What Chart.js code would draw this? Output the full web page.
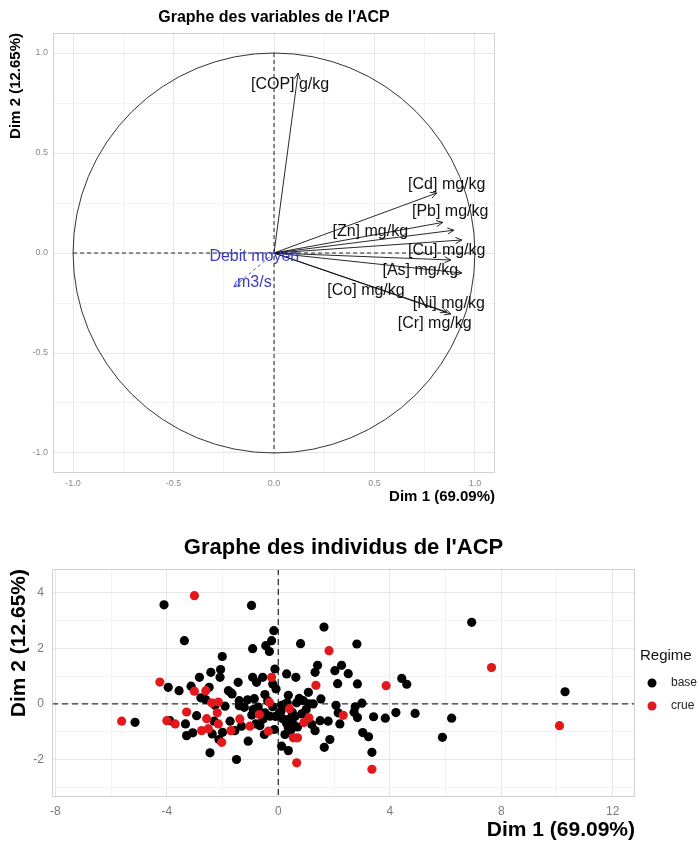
<!DOCTYPE html>
<html>
<head>
<meta charset="utf-8">
<script src="https://cdn.jsdelivr.net/npm/chart.js@4.4.1/dist/chart.umd.min.js"></script>
<style>
  body { margin: 0; background: #fff; }
  #varChart { position: absolute; left: 0; top: 0; }
  #indChart { position: absolute; left: 0; top: 528px; }
</style>
</head>
<body>
<canvas id="varChart" width="520" height="508"></canvas>
<canvas id="indChart" width="699" height="315"></canvas>
<script>
// ---------- variables (correlation circle) ----------
const varNames = ['[COP] g/kg', '[Cd] mg/kg', '[Pb] mg/kg', '[Zn] mg/kg', '[Cu] mg/kg',
                  '[As] mg/kg', '[Co] mg/kg', '[Ni] mg/kg', '[Cr] mg/kg'];
const varDim1 = [0.12, 0.81, 0.84, 0.895, 0.935, 0.88, 0.935, 0.86, 0.88];
const varDim2 = [0.90, 0.30, 0.153, 0.114, 0.065, -0.035, -0.10, -0.295, -0.305];
const supNames = ['Debit moyen', 'm3/s'];
const supDim1 = [-0.20];
const supDim2 = [-0.17];
const varTicks = [-1, -0.75, -0.5, -0.25, 0, 0.25, 0.5, 0.75, 1];

// where the repelled labels sit (data units)
const varLabelAt = [[0.08, 0.84], [0.86, 0.343], [0.877, 0.205], [0.479, 0.106], [0.86, 0.011],
                    [0.728, -0.088], [0.458, -0.188], [0.87, -0.254], [0.80, -0.353]];
const supLabelAt = [[-0.098, -0.018]];

// ---------- individuals ----------
const regimes = ['base', 'crue'];
const baseDim1 = [-4.10, -0.96, -3.37, -0.16, -0.24, -0.32, -0.45, -0.92, 0.80, 1.64,
  -2.01, -2.07, -2.09, -2.42, -0.12, 0.30, 0.63, 1.32, 1.41, 2.03,
  2.27, 2.51, 2.13, -2.83, -3.95, -3.56, -3.13, -2.48, -2.78, -2.61,
  -1.79, -1.70, -1.44, -1.40, -1.40, -0.92, -0.78, -0.56, -0.86, -0.48,
  -0.38, -0.20, -0.08, 0.36, 0.22, 0.66, 0.90, 1.08, 1.11, 1.53,
  2.07, 2.15, 2.21, -2.27, -1.91, -1.22, -0.72, 0.12, 0.04, 0.32,
  0.16, 0.42, 0.54, 0.69, 0.84, 1.20, 1.32, 1.50, 1.79, 1.85,
  1.65, -5.14, -3.89, -3.33, -3.29, -3.07, -2.93, -2.37, -2.13, -2.30,
  -2.45, -1.50, -1.56, -1.32, -1.08, -0.81, -0.50, -0.66, -0.14, 0.12,
  0.24, 0.36, 0.22, 0.36, -0.48, -0.30, -0.90, -1.73, -2.00,
  2.84, 2.82, 2.76, 2.72, 2.84, 3.00, 3.42, 3.84, 4.22, 4.43,
  4.61, 4.91, 3.03, 3.24, 3.36, 5.89, 6.22, 6.94, 10.29,
  0.50, 0.10, -0.10, 0.60, 0.30, -0.55, 1.00, 0.75, -1.10, -0.20,
  0.45, 1.25, -0.95, -1.66];
const baseDim2 = [3.57, 3.55, 2.28, 2.64, 2.28, 1.89, 2.10, 1.99, 2.17, 2.77,
  1.71, 1.24, 0.96, 1.14, 1.26, 1.08, 0.96, 1.14, 1.39, 1.20,
  1.39, 1.09, 0.73, 0.96, 0.60, 0.48, 0.64, 0.60, 0.22, 0.16,
  0.48, 0.40, 0.78, 0.12, -0.06, 0.96, 0.78, 0.96, 0.19, 0.34,
  0.12, 0.72, 0.54, 0.31, -0.02, 0.04, 0.12, 0.42, 0.00, 0.18,
  -0.05, -0.32, -0.72, -0.05, -0.08, -0.12, -0.11, -0.05, -0.32, 0.04,
  -0.53, -0.53, -0.74, -0.83, -0.36, -0.74, -0.96, -0.60, -0.62, -1.28,
  -1.56, -0.66, -0.60, -0.72, -1.14, -1.04, -0.42, -1.08, -1.28, -0.62,
  -1.76, -2.00, -0.96, -0.80, -1.34, -0.72, -1.10, -0.78, -0.92, -1.52,
  -1.10, -1.68, -0.56, -0.86, -0.32, -0.44, -0.20, -0.62, -1.02,
  0.72, 2.16, -0.10, -0.30, -0.49, 0.03, -0.46, -0.51, -0.31, 0.92,
  0.71, -0.34, -1.03, -1.18, -1.74, -1.20, -0.51, 2.94, 0.44,
  -0.30, -0.25, -0.45, -0.45, -0.70, -0.55, -0.20, 0.20, 0.15, -0.10,
  -0.95, 0.00, -0.40, 0.36];
const crueDim1 = [-3.01, -4.25, -5.62, -4.00, -3.70, -3.01, -3.29, -2.60, -2.75, -2.57,
  -2.51, -2.39, -2.15, -2.19, -2.15, -2.03, -1.70, -1.38, -1.02, -0.68,
  -0.24, -0.32, -0.36, 0.40, 0.54, 0.69, 0.66, 0.92, 1.10, 1.35,
  1.82, 2.33, 3.87, 3.36, 7.65, 10.09];
const crueDim2 = [3.90, 0.79, -0.62, -0.60, -0.72, 0.46, -0.29, 0.48, -0.96, -0.53,
  -0.89, 0.04, 0.07, -0.32, -0.72, -1.38, -0.96, -0.54, -0.80, -0.38,
  0.96, 0.06, -0.98, -0.17, -1.22, -1.22, -2.12, -0.67, -0.50, 0.67,
  1.92, -0.41, 0.66, -2.35, 1.31, -0.78];
const indTicksX = [-8, -6, -4, -2, 0, 2, 4, 6, 8, 10, 12];
const indTicksY = [-3, -2, -1, 0, 1, 2, 3, 4];

Chart.defaults.font.family = "'Liberation Sans', Arial, sans-serif";

const isMult = (v, step) => Math.abs(v / step - Math.round(v / step)) < 1e-9;

// panel border + centered title
const frame = {
  id: 'frame',
  afterDraw(chart, args, opts) {
    const { ctx, chartArea: a } = chart;
    ctx.save();
    ctx.strokeStyle = '#d2d2d2';
    ctx.lineWidth = 1;
    ctx.strokeRect(a.left + 0.5, a.top + 0.5, a.right - a.left - 1, a.bottom - a.top - 1);
    ctx.fillStyle = '#000';
    ctx.font = opts.font;
    ctx.textAlign = 'center';
    ctx.textBaseline = 'middle';
    ctx.fillText(opts.text, (a.left + a.right) / 2, opts.y);
    ctx.restore();
  }
};

// dashed lines through the origin
const zeroLines = {
  id: 'zeroLines',
  beforeDatasetsDraw(chart, args, opts) {
    const { ctx, chartArea: a, scales: { x, y } } = chart;
    const cx = x.getPixelForValue(0), cy = y.getPixelForValue(0);
    const x0 = opts.span ? x.getPixelForValue(-opts.span) : a.left;
    const x1 = opts.span ? x.getPixelForValue(opts.span) : a.right;
    const y0 = opts.span ? y.getPixelForValue(opts.span) : a.top;
    const y1 = opts.span ? y.getPixelForValue(-opts.span) : a.bottom;
    ctx.save();
    ctx.strokeStyle = opts.color;
    ctx.lineWidth = opts.width;
    ctx.setLineDash(opts.dash);
    ctx.beginPath();
    ctx.moveTo(x0, cy); ctx.lineTo(x1, cy);
    ctx.moveTo(cx, y0); ctx.lineTo(cx, y1);
    ctx.stroke();
    ctx.restore();
  }
};

// unit circle, arrow heads and variable labels
const arrows = {
  id: 'arrows',
  beforeDatasetsDraw(chart) {
    const { ctx, scales: { x, y } } = chart;
    const cx = x.getPixelForValue(0), cy = y.getPixelForValue(0);
    ctx.save();
    ctx.strokeStyle = '#333';
    ctx.lineWidth = 1;
    ctx.beginPath();
    ctx.ellipse(cx, cy, x.getPixelForValue(1) - cx, cy - y.getPixelForValue(1), 0, 0, Math.PI * 2);
    ctx.stroke();
    ctx.restore();
  },
  afterDatasetsDraw(chart) {
    const { ctx, scales: { x, y } } = chart;
    ctx.save();
    chart.data.datasets.forEach((ds, i) => {
      const pts = chart.getDatasetMeta(i).data;
      const p0 = pts[0], p1 = pts[1];
      const ang = Math.atan2(p1.y - p0.y, p1.x - p0.x);
      ctx.strokeStyle = ds.borderColor;
      ctx.lineWidth = 0.9;
      ctx.setLineDash([]);
      ctx.beginPath();
      ctx.moveTo(p1.x - 7 * Math.cos(ang - 0.45), p1.y - 7 * Math.sin(ang - 0.45));
      ctx.lineTo(p1.x, p1.y);
      ctx.lineTo(p1.x - 7 * Math.cos(ang + 0.45), p1.y - 7 * Math.sin(ang + 0.45));
      ctx.stroke();

      ctx.fillStyle = ds.borderColor;
      ctx.font = "16px 'Liberation Sans', Arial, sans-serif";
      ctx.textAlign = 'center';
      ctx.textBaseline = 'middle';
      const lx = x.getPixelForValue(ds.labelAt[0]);
      const ly = y.getPixelForValue(ds.labelAt[1]);
      ds.labelLines.forEach((t, k) => ctx.fillText(t, lx, ly + k * 25.6));
    });
    ctx.restore();
  }
};

// legend at the right of the individuals panel
const sideLegend = {
  id: 'sideLegend',
  afterDraw(chart) {
    const { ctx, chartArea: a } = chart;
    ctx.save();
    ctx.textBaseline = 'middle';
    ctx.textAlign = 'left';
    ctx.fillStyle = '#111';
    ctx.font = "15px 'Liberation Sans', Arial, sans-serif";
    ctx.fillText('Regime', a.right + 5, 128);
    ctx.font = "12px 'Liberation Sans', Arial, sans-serif";
    regimes.forEach((r, i) => {
      const ds = chart.data.datasets.find(d => d.label === r);
      const yy = 155 + i * 23;
      ctx.fillStyle = ds.backgroundColor;
      ctx.beginPath();
      ctx.arc(a.right + 17, yy, 4.5, 0, Math.PI * 2);
      ctx.fill();
      ctx.fillStyle = '#222';
      ctx.fillText(r, a.right + 36, yy);
    });
    ctx.restore();
  }
};

const varDatasets = varNames.map((n, i) => ({
  label: n,
  data: [{ x: 0, y: 0 }, { x: varDim1[i], y: varDim2[i] }],
  showLine: true,
  borderColor: '#111',
  borderWidth: 0.9,
  pointRadius: 0,
  labelAt: varLabelAt[i],
  labelLines: [n]
}));
supDim1.forEach((v, i) => varDatasets.push({
  label: supNames.join(' '),
  data: [{ x: 0, y: 0 }, { x: v, y: supDim2[i] }],
  showLine: true,
  borderColor: '#3b3bbb',
  borderWidth: 0.9,
  borderDash: [3, 3],
  pointRadius: 0,
  labelAt: supLabelAt[i],
  labelLines: supNames
}));

new Chart(document.getElementById('varChart'), {
  type: 'scatter',
  data: { datasets: varDatasets },
  options: {
    responsive: false,
    animation: false,
    events: [],
    layout: { padding: { top: 33, right: 25, left: 0, bottom: 0 } },
    plugins: {
      legend: { display: false },
      tooltip: { enabled: false },
      frame: { text: "Graphe des variables de l'ACP", font: "bold 16px 'Liberation Sans', Arial, sans-serif", y: 18 },
      zeroLines: { span: 1, color: '#222', width: 1, dash: [4, 3] }
    },
    scales: {
      x: {
        type: 'linear', min: -1.1, max: 1.1,
        afterBuildTicks: s => { s.ticks = varTicks.map(v => ({ value: v })); },
        afterFit: s => { s.height = 35; },
        grid: { color: c => isMult(c.tick.value, 0.5) ? '#e6e6e6' : '#f3f3f3', drawTicks: false },
        border: { display: false },
        ticks: { autoSkip: false, maxRotation: 0, padding: 5, font: { size: 9 }, color: '#8a8a8a',
                 callback: v => isMult(v, 0.5) ? v.toFixed(1) : '' },
        title: { display: true, text: 'Dim 1 (69.09%)', align: 'end', color: '#000',
                 font: { size: 15, weight: 'bold' }, padding: { top: 0, bottom: 2 } }
      },
      y: {
        type: 'linear', min: -1.1, max: 1.1,
        afterBuildTicks: s => { s.ticks = varTicks.map(v => ({ value: v })); },
        afterFit: s => { s.width = 53; },
        grid: { color: c => isMult(c.tick.value, 0.5) ? '#e6e6e6' : '#f3f3f3', drawTicks: false },
        border: { display: false },
        ticks: { autoSkip: false, padding: 5, font: { size: 9 }, color: '#8a8a8a',
                 callback: v => isMult(v, 0.5) ? v.toFixed(1) : '' },
        title: { display: true, text: 'Dim 2 (12.65%)', align: 'end', color: '#000',
                 font: { size: 15, weight: 'bold' }, padding: { top: 7, bottom: 0 } }
      }
    }
  },
  plugins: [frame, zeroLines, arrows]
});

new Chart(document.getElementById('indChart'), {
  type: 'scatter',
  data: {
    datasets: [
      { label: regimes[0], data: baseDim1.map((v, i) => ({ x: v, y: baseDim2[i] })),
        backgroundColor: '#000000', borderColor: '#000000', pointRadius: 4.6, borderWidth: 0, order: 1 },
      { label: regimes[1], data: crueDim1.map((v, i) => ({ x: v, y: crueDim2[i] })),
        backgroundColor: '#e3181c', borderColor: '#e3181c', pointRadius: 4.6, borderWidth: 0, order: 0 }
    ]
  },
  options: {
    responsive: false,
    animation: false,
    events: [],
    layout: { padding: { top: 41, right: 64, left: 0, bottom: 0 } },
    plugins: {
      legend: { display: false },
      tooltip: { enabled: false },
      frame: { text: "Graphe des individus de l'ACP", font: "bold 22px 'Liberation Sans', Arial, sans-serif", y: 20 },
      zeroLines: { span: 0, color: '#333', width: 1.3, dash: [6, 4] }
    },
    scales: {
      x: {
        type: 'linear', min: -8.12, max: 12.8,
        afterBuildTicks: s => { s.ticks = indTicksX.map(v => ({ value: v })); },
        afterFit: s => { s.height = 46; },
        grid: { color: c => isMult(c.tick.value, 4) ? '#e6e6e6' : '#f3f3f3', drawTicks: false },
        border: { display: false },
        ticks: { autoSkip: false, maxRotation: 0, padding: 7, font: { size: 12 }, color: '#7a7a7a',
                 callback: v => isMult(v, 4) ? String(v) : '' },
        title: { display: true, text: 'Dim 1 (69.09%)', align: 'end', color: '#000',
                 font: { size: 21, weight: 'bold' }, padding: { top: 0, bottom: 0 } }
      },
      y: {
        type: 'linear', min: -3.35, max: 4.86,
        afterBuildTicks: s => { s.ticks = indTicksY.map(v => ({ value: v })); },
        afterFit: s => { s.width = 52; },
        grid: { color: c => isMult(c.tick.value, 2) ? '#e6e6e6' : '#f3f3f3', drawTicks: false },
        border: { display: false },
        ticks: { autoSkip: false, padding: 8, font: { size: 12 }, color: '#7a7a7a',
                 callback: v => isMult(v, 2) ? String(v) : '' },
        title: { display: true, text: 'Dim 2 (12.65%)', align: 'end', color: '#000',
                 font: { size: 21, weight: 'bold' }, padding: { top: 7, bottom: 0 } }
      }
    }
  },
  plugins: [frame, zeroLines, sideLegend]
});
</script>
</body>
</html>
